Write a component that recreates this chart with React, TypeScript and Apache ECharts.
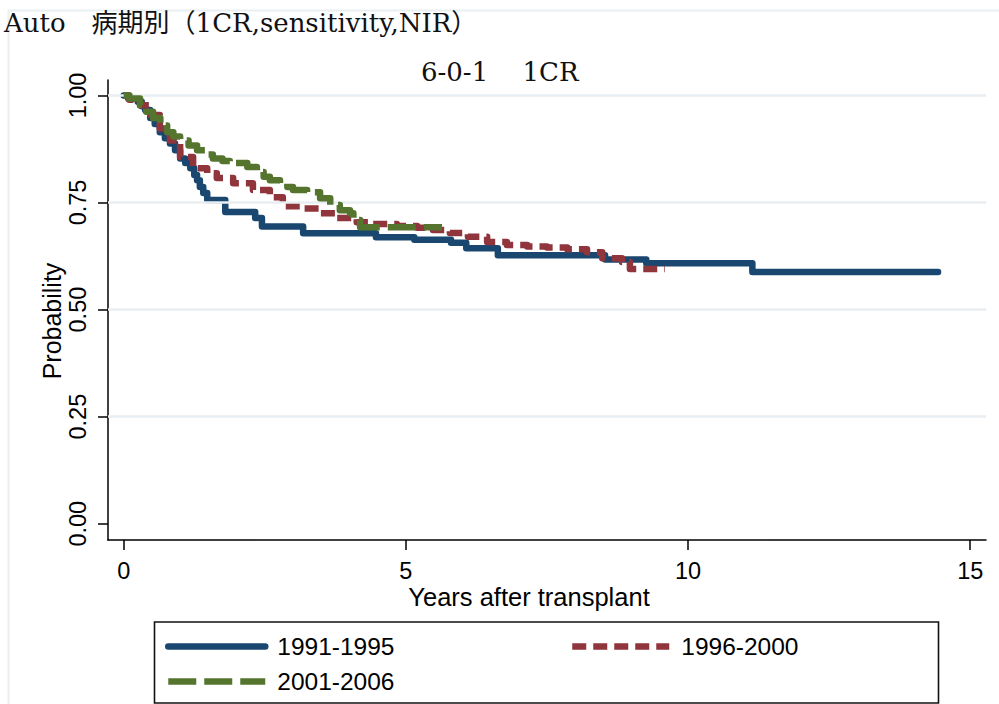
import React, { useEffect, useRef } from 'react';
import * as echarts from 'echarts';

// Kaplan–Meier curves: time of drop (years) and survival after the drop
const blueT = [0, 0.08, 0.25, 0.32, 0.38, 0.47, 0.55, 0.64, 0.73, 0.82, 0.91, 1.0, 1.09, 1.18, 1.25, 1.3, 1.35, 1.41, 1.48, 1.8, 2.33, 2.45, 3.18, 4.47, 5.15, 5.8, 6.07, 6.63, 8.53, 9.26, 11.14, 14.43];
const blueS = [1.0, 0.993, 0.985, 0.975, 0.966, 0.947, 0.933, 0.914, 0.9, 0.888, 0.872, 0.853, 0.842, 0.83, 0.814, 0.802, 0.786, 0.772, 0.756, 0.728, 0.714, 0.694, 0.678, 0.669, 0.663, 0.656, 0.643, 0.627, 0.617, 0.608, 0.588, 0.588];

const redT = [0, 0.1, 0.29, 0.47, 0.64, 0.82, 1.0, 1.23, 1.48, 1.65, 1.94, 2.29, 2.59, 2.82, 3.12, 3.48, 3.78, 4.13, 4.42, 4.84, 5.2, 5.48, 5.78, 6.1, 6.44, 6.79, 7.15, 7.5, 7.86, 8.21, 8.48, 8.83, 8.97, 9.59];
const redS = [1.0, 0.99, 0.977, 0.954, 0.923, 0.895, 0.856, 0.83, 0.818, 0.807, 0.795, 0.779, 0.762, 0.741, 0.736, 0.725, 0.714, 0.704, 0.7, 0.695, 0.691, 0.686, 0.679, 0.67, 0.658, 0.651, 0.647, 0.645, 0.641, 0.634, 0.62, 0.611, 0.595, 0.595];

const greenT = [0, 0.1, 0.29, 0.4, 0.52, 0.65, 0.77, 0.88, 1.0, 1.15, 1.3, 1.45, 1.58, 1.75, 1.88, 2.19, 2.36, 2.48, 2.59, 2.77, 2.9, 3.0, 3.25, 3.48, 3.66, 3.83, 4.01, 4.07, 4.19, 5.64];
const greenS = [1.0, 0.993, 0.977, 0.962, 0.947, 0.93, 0.914, 0.904, 0.895, 0.883, 0.872, 0.862, 0.853, 0.847, 0.842, 0.833, 0.821, 0.81, 0.802, 0.795, 0.786, 0.779, 0.774, 0.76, 0.744, 0.732, 0.725, 0.709, 0.692, 0.692];

const seriesNames = ['1991-1995', '1996-2000', '2001-2006'];
const xTicks = [0, 5, 10, 15];
const yTicks = [0, 0.25, 0.5, 0.75, 1];
const yGrid = [0.25, 0.5, 0.75, 1];

const mainTitle = 'Auto\u3000病期別（1CR,sensitivity,NIR）';
const subTitle = '6-0-1\u3000 1CR';
const xTitle = 'Years after transplant';
const yTitle = 'Probability';

const BLUE = '#1a476f';
const RED = '#90353b';
const GREEN = '#55752f';

export default function App() {
  const ref = useRef<HTMLDivElement>(null);
  useEffect(() => {
    const chart = echarts.init(ref.current as HTMLDivElement, null, { renderer: 'svg' });
    const pair = (t: number[], s: number[]) => t.map((v, i) => [v, s[i]]);
    const sans = "'Liberation Sans', Arial, sans-serif";
    const serif = "'DejaVu Serif', 'Noto Sans CJK JP', serif";
    const legendBase = {
      itemWidth: 97,
      itemHeight: 14,
      padding: 0,
      selectedMode: false,
      itemStyle: { opacity: 0 },
      lineStyle: { width: 6.5 },
      textStyle: { fontFamily: sans, fontSize: 24.5, color: '#000', padding: [0, 0, 0, 7] },
    };
    chart.setOption({
      animation: false,
      backgroundColor: '#ffffff',
      title: [
        {
          text: mainTitle, left: 4, top: 10, padding: 0,
          textStyle: { fontFamily: serif, fontSize: 26, fontWeight: 'normal', color: '#111' },
        },
        {
          text: subTitle, left: 421, top: 59, padding: 0,
          textStyle: { fontFamily: serif, fontSize: 26, fontWeight: 'normal', color: '#111' },
        },
      ],
      legend: [
        { ...legendBase, data: [seriesNames[0]], left: 165, top: 634 },
        { ...legendBase, data: [seriesNames[1]], left: 569, top: 634 },
        { ...legendBase, data: [seriesNames[2]], left: 165, top: 669 },
      ],
      grid: { left: 108, top: 80, right: 13, bottom: 164, outerBoundsMode: 'none' },
      xAxis: {
        type: 'value', min: -0.278, max: 15.28,
        axisLine: { onZero: false, lineStyle: { color: '#000', width: 1.5 } },
        axisTick: { length: 10, customValues: xTicks, lineStyle: { color: '#000', width: 1.5 } },
        axisLabel: { customValues: xTicks, margin: 19, fontFamily: sans, fontSize: 23.5, color: '#000' },
        splitLine: { show: false },
      },
      yAxis: {
        type: 'value', min: -0.038, max: 1.036,
        axisLine: { onZero: false, lineStyle: { color: '#000', width: 1.5 } },
        axisTick: { length: 10, customValues: yTicks, lineStyle: { color: '#000', width: 1.5 } },
        axisLabel: {
          customValues: yTicks, rotate: 90, margin: 18, fontFamily: sans, fontSize: 23.5, color: '#000',
          formatter: (v: number) => v.toFixed(2),
        },
        splitLine: { show: false },
      },
      graphic: [
        {
          type: 'rect', shape: { x: 8.5, y: 10.5, width: 1000, height: 720 },
          style: { fill: 'none', stroke: '#e9eff2', lineWidth: 2 }, silent: true, z: -10,
        },
        {
          type: 'rect', shape: { x: 154.5, y: 622, width: 784, height: 81 },
          style: { fill: 'none', stroke: '#111', lineWidth: 1.6 }, silent: true,
        },
        {
          type: 'text', x: 52, y: 321, rotation: Math.PI / 2,
          style: { text: yTitle, fontFamily: sans, fontSize: 25, fill: '#000', align: 'center', verticalAlign: 'middle' },
        },
        {
          type: 'text', x: 529, y: 597,
          style: { text: xTitle, fontFamily: sans, fontSize: 25.5, fill: '#000', align: 'center', verticalAlign: 'middle' },
        },
      ],
      series: [
        {
          name: 'grid', type: 'line', data: [], z: 1, silent: true,
          markLine: {
            silent: true, symbol: ['none', 'none'], label: { show: false },
            lineStyle: { color: '#e8eef1', width: 2.5, type: 'solid' },
            data: yGrid.map((v) => ({ yAxis: v })),
          },
        },
        {
          name: seriesNames[0], type: 'line', step: 'end', data: pair(blueT, blueS), symbol: 'none', z: 3,
          lineStyle: { color: BLUE, width: 6.5, cap: 'round', join: 'round' }, itemStyle: { color: BLUE },
        },
        {
          name: seriesNames[1], type: 'line', step: 'end', data: pair(redT, redS), symbol: 'none', z: 4,
          lineStyle: { color: RED, width: 6.5, type: [14, 7], join: 'round' }, itemStyle: { color: RED },
        },
        {
          name: seriesNames[2], type: 'line', step: 'end', data: pair(greenT, greenS), symbol: 'none', z: 5,
          lineStyle: { color: GREEN, width: 6.5, type: [28, 8], join: 'round' }, itemStyle: { color: GREEN },
        },
      ],
    });
    return () => chart.dispose();
  }, []);
  return <div ref={ref} style={{ position: 'fixed', left: 0, top: 0, width: 999, height: 704 }} />;
}
